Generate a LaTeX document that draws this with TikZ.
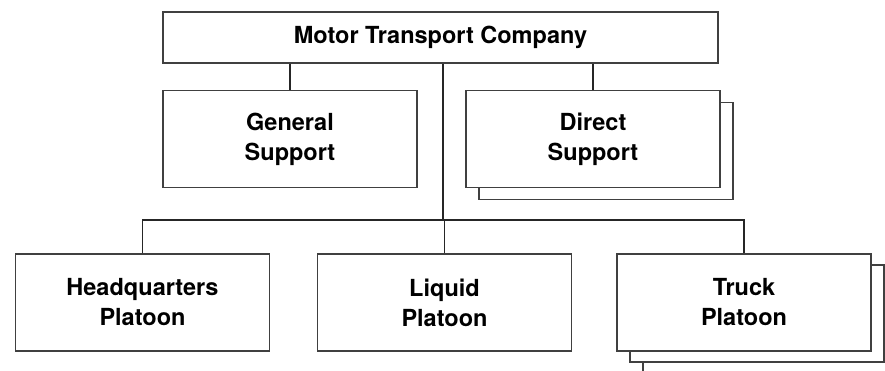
\documentclass[tikz,border=0pt]{standalone}
\usepackage{fontspec}
\setmainfont{TeX Gyre Heros}
\begin{document}
\begin{tikzpicture}[x=1pt,y=-1pt,
  box/.style={draw=black!75,line width=1.4pt,fill=white,minimum width=254pt,minimum height=97pt,inner sep=0pt,align=center,font=\bfseries\fontsize{23.5}{30}\selectfont},
  shadowbox/.style={draw=black!75,line width=1.4pt,fill=white,minimum width=254pt,minimum height=97pt,inner sep=0pt},
  conn/.style={draw=black!85,line width=1.5pt}]
\useasboundingbox (0,0) rectangle (885,371);
\begin{scope}
\clip (0,0) rectangle (885,371);
\node[box,minimum width=555pt,minimum height=51pt] (top) at (440.5,37.5) {Motor Transport Company};
\node[box] (gs) at (290,139) {General\\Support};
\node[shadowbox] (dss) at (606,151) {};
\node[box] (ds) at (593,139) {Direct\\Support};
\node[box] (hq) at (142.5,302.5) {Headquarters\\Platoon};
\node[box] (lq) at (444.5,302.5) {Liquid\\Platoon};
\node[shadowbox] (tps2) at (770,325) {};
\node[shadowbox] (tps1) at (757,313.5) {};
\node[box] (tp) at (744,302.5) {Truck\\Platoon};
\coordinate (bus) at (443,220);
\draw[conn] (gs.north |- top.south) -- (gs.north);
\draw[conn] (ds.north |- top.south) -- (ds.north);
\draw[conn] (bus |- top.south) -- (bus);
\draw[conn] (hq.north) -- (hq.north |- bus) -- (tp.north |- bus) -- (tp.north);
\draw[conn] (lq.north |- bus) -- (lq.north);
\end{scope}
\end{tikzpicture}
\end{document}
